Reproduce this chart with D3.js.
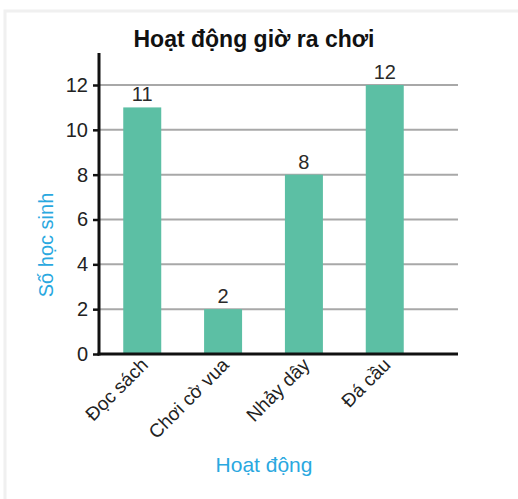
<!DOCTYPE html>
<html>
<head>
<meta charset="utf-8">
<script src="https://cdnjs.cloudflare.com/ajax/libs/d3/7.8.5/d3.min.js"></script>
<style>
  body { margin: 0; background: #fff; }
  svg { display: block; }
</style>
</head>
<body>
<svg id="chart" width="518" height="499"></svg>
<script>
var categories = ["Đọc sách", "Chơi cờ vua", "Nhảy dây", "Đá cầu"];
var values = [11, 2, 8, 12];
var yTicks = [0, 2, 4, 6, 8, 10, 12];

var svg = d3.select("#chart");
var fontFam = "'Liberation Sans', Arial, sans-serif";

// faint card frame
svg.append("path")
    .attr("d", "M5,499 L5,11 L518,11")
    .attr("fill", "none")
    .attr("stroke", "#f0f0f0")
    .attr("stroke-width", 3);

var x0 = 99, yBase = 354, gridEnd = 458;

var yScale = d3.scaleLinear().domain([0, 12]).range([yBase, 85]);
var xScale = d3.scaleBand().domain(categories)
    .range([x0, 428]).paddingInner(0.53).paddingOuter(0.3);

// gridlines
svg.append("g").selectAll("line").data(yTicks.filter(function (d) { return d > 0; }))
    .enter().append("line")
    .attr("x1", x0).attr("x2", gridEnd)
    .attr("y1", function (d) { return yScale(d); })
    .attr("y2", function (d) { return yScale(d); })
    .attr("stroke", "#a8a8a8")
    .attr("stroke-width", 2);

// bars
svg.append("g").selectAll("rect").data(values)
    .enter().append("rect")
    .attr("x", function (d, i) { return xScale(categories[i]); })
    .attr("width", xScale.bandwidth())
    .attr("y", function (d) { return yScale(d); })
    .attr("height", function (d) { return yBase - yScale(d); })
    .attr("fill", "#5cbfa4");

// value labels
svg.append("g").selectAll("text").data(values)
    .enter().append("text")
    .attr("x", function (d, i) { return xScale(categories[i]) + xScale.bandwidth() / 2; })
    .attr("y", function (d) { return yScale(d) - 6; })
    .attr("text-anchor", "middle")
    .attr("font-family", fontFam)
    .attr("font-size", 20)
    .attr("fill", "#2a2a2a")
    .text(function (d) { return d; });

// y axis
var yAxis = d3.axisLeft(yScale).tickValues(yTicks).tickSize(6).tickPadding(5);
var gy = svg.append("g")
    .attr("transform", "translate(" + x0 + ",0)")
    .call(yAxis);
gy.select(".domain").remove();
gy.selectAll(".tick line").attr("stroke", "#111").attr("stroke-width", 2.5);
gy.selectAll(".tick text")
    .attr("font-family", fontFam)
    .attr("font-size", 20)
    .attr("fill", "#222");
svg.append("line")
    .attr("x1", x0).attr("x2", x0)
    .attr("y1", 53).attr("y2", yBase + 1.5)
    .attr("stroke", "#111").attr("stroke-width", 3);

// x axis
svg.append("line")
    .attr("x1", x0 - 1.5).attr("x2", gridEnd)
    .attr("y1", yBase).attr("y2", yBase)
    .attr("stroke", "#111").attr("stroke-width", 3);

svg.append("g").selectAll("text").data(categories)
    .enter().append("text")
    .attr("transform", function (d) {
        var cx = xScale(d) + xScale.bandwidth() / 2 + 7;
        return "translate(" + cx + "," + 366 + ") rotate(-45)";
    })
    .attr("text-anchor", "end")
    .attr("font-family", fontFam)
    .attr("font-size", 19)
    .attr("fill", "#222")
    .text(function (d) { return d; });

// title
svg.append("text")
    .attr("x", 254).attr("y", 47)
    .attr("text-anchor", "middle")
    .attr("font-family", fontFam)
    .attr("font-size", 23)
    .attr("font-weight", "bold")
    .attr("fill", "#111")
    .text("Hoạt động giờ ra chơi");

// axis titles
svg.append("text")
    .attr("transform", "translate(53,245) rotate(-90)")
    .attr("text-anchor", "middle")
    .attr("font-family", fontFam)
    .attr("font-size", 20)
    .attr("fill", "#2aa8df")
    .text("Số học sinh");

svg.append("text")
    .attr("x", 264).attr("y", 472)
    .attr("text-anchor", "middle")
    .attr("font-family", fontFam)
    .attr("font-size", 21)
    .attr("fill", "#2aa8df")
    .text("Hoạt động");
</script>
</body>
</html>
